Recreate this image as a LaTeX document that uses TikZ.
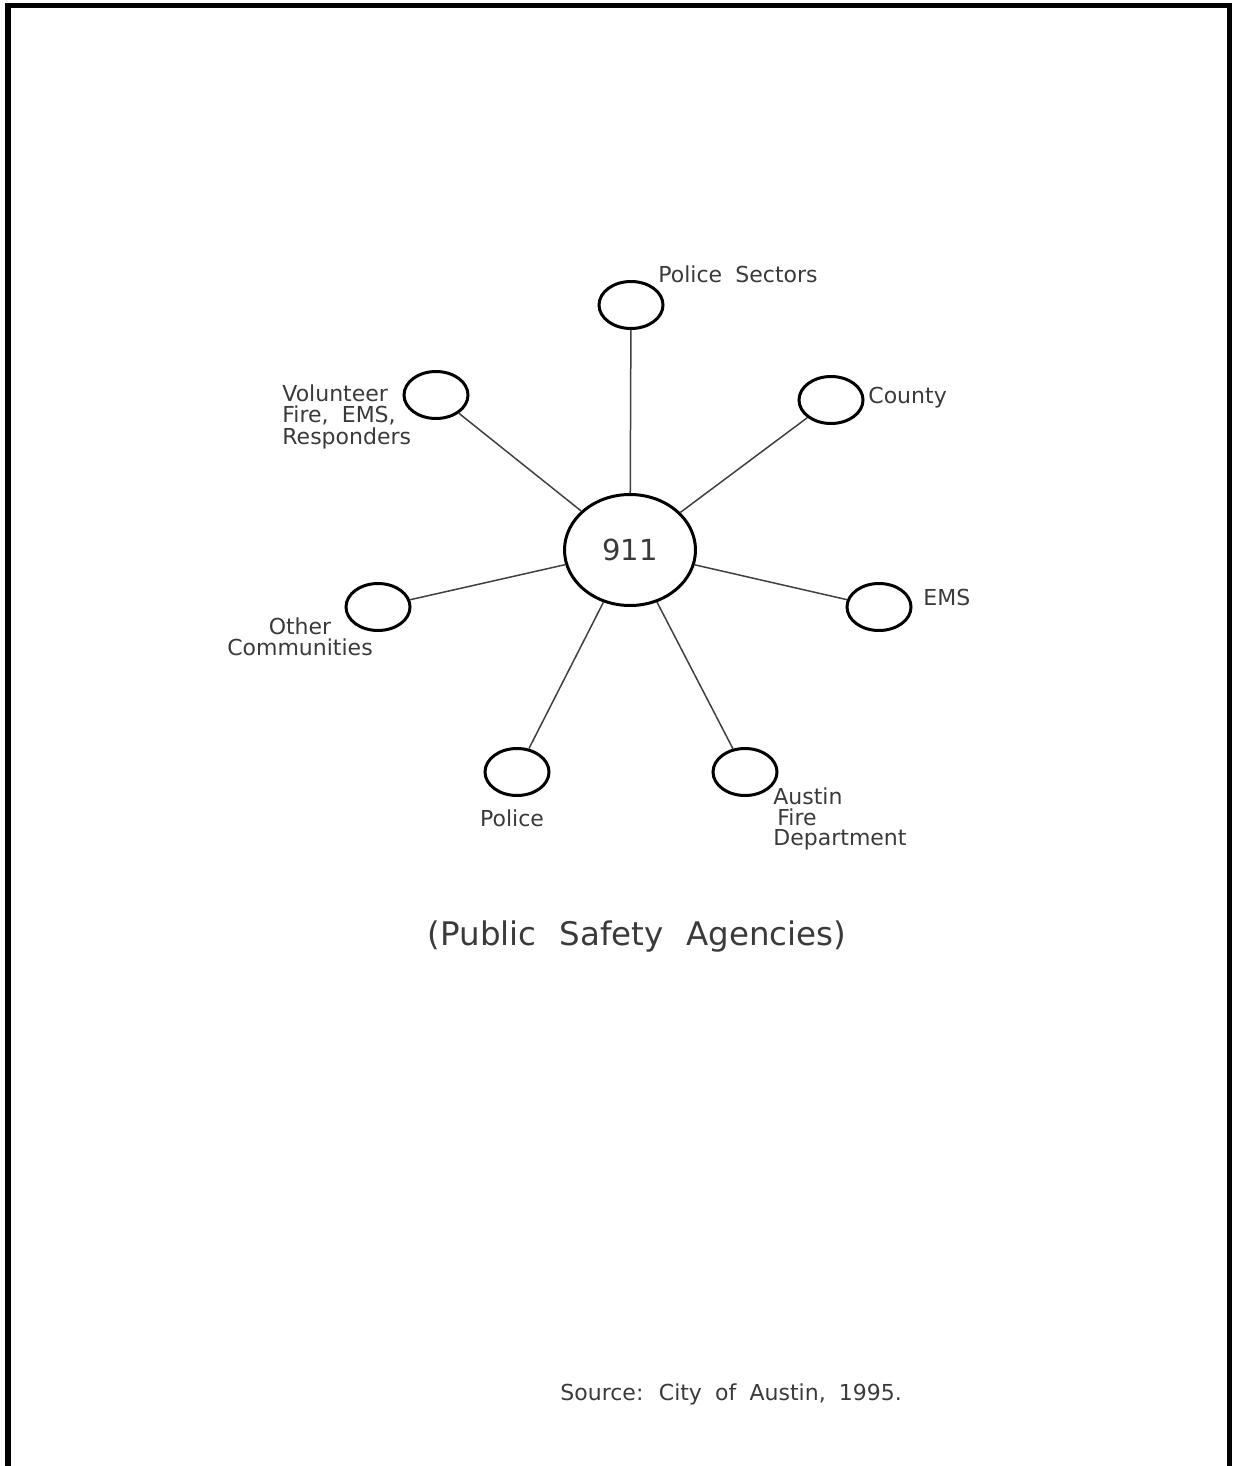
\documentclass[tikz,border=0pt]{standalone}
\usepackage{fontspec}
\usetikzlibrary{shapes.geometric}
\newfontfamily\lblfont{DejaVu Sans}
\definecolor{txt}{HTML}{3A3A3A}
\newcommand\lblsty{\fontsize{11}{10.75}\selectfont\lblfont\spaceskip 0.6em plus 0.1em\relax}
\newcommand\titlesty{\fontsize{16.25}{16.25}\selectfont\lblfont\spaceskip 0.7em plus 0.1em\relax}
\begin{document}
\begin{tikzpicture}[x=0.5pt,y=-0.5pt,
  lbl/.style={font=\lblsty, text=txt, inner sep=0pt},
  hub/.style={draw, ellipse, line width=1.5pt, minimum width=65.5pt, minimum height=55.5pt, inner sep=0pt,
              font=\fontsize{14.5}{14.5}\selectfont\lblfont, text=txt},
  agency/.style={draw, ellipse, line width=1.5pt, minimum width=32pt, minimum height=23.5pt, inner sep=0pt},
  link/.style={draw=black!75, line width=0.75pt}]
\useasboundingbox (0,0) rectangle (1233,1466);
% frame (open at bottom)
\draw[line width=2.75pt] (8,1466) -- (8,5.5) -- (1229.5,5.5) -- (1229.5,1466);

% nodes
\node[hub] (c) at (630,550) {911};
\node[agency] (ps)  at (631,305) {};
\node[agency] (vol) at (436,395) {};
\node[agency] (cty) at (831,400) {};
\node[agency] (ems) at (879,607) {};
\node[agency] (oth) at (378,607) {};
\node[agency] (pol) at (517,772) {};
\node[agency] (afd) at (745,772) {};

% connectors
\foreach \n in {ps,vol,cty,ems,oth,pol,afd} \path[link] (c) -- (\n);

% labels
\node[lbl, anchor=base west] (lps) at (658,282) {Police Sectors};
\node[lbl, anchor=base west] (lcty) at (868,403) {County};
\node[lbl, anchor=base west] (lems) at (923,605) {EMS};
\node[lbl, anchor=base] (lpol) at (512,826) {Police};
\node[lbl, anchor=north west, align=left] (lvol) at (282,384) {Volunteer\\Fire, EMS,\\Responders};
\node[lbl, anchor=north, align=center] (loth) at (300,617) {Other\\Communities};
\node[lbl, anchor=north west, align=left] (lafd) at (773,787) {Austin\\\hspace{2pt}Fire\\[-1pt]Department};

\node[font=\titlesty, text=txt, inner sep=0pt, anchor=base] (title) at (637,945) {(Public Safety Agencies)};
\node[lbl, anchor=base west] (src) at (560,1400) {Source: City of Austin, 1995.};
\end{tikzpicture}
\end{document}
